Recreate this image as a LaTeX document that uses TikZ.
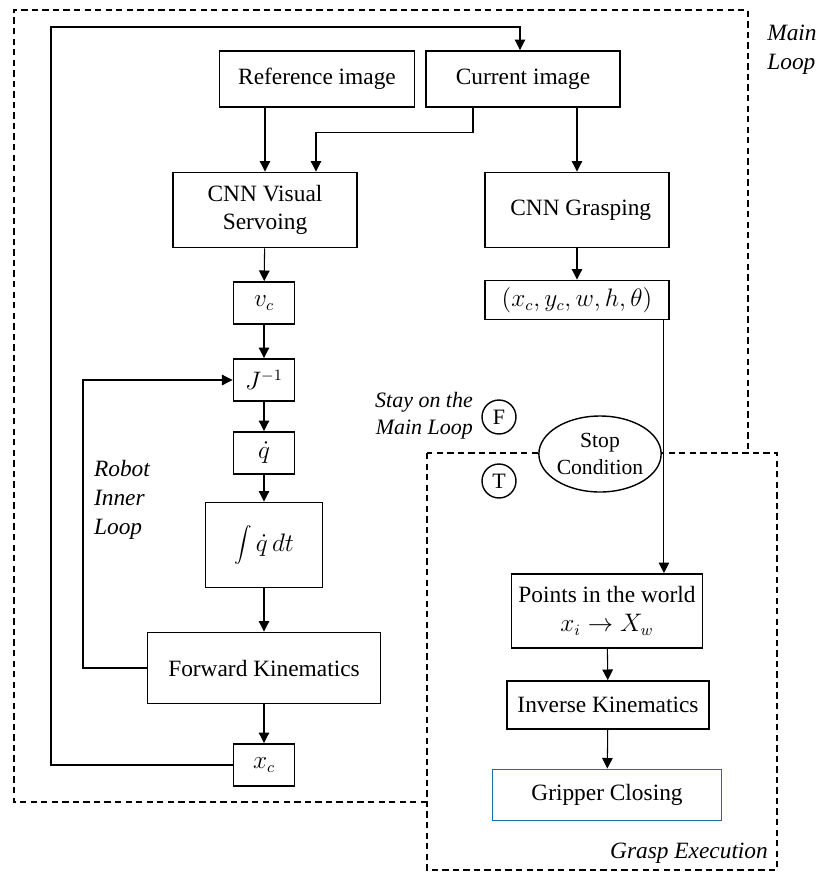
\documentclass[tikz,border=0pt]{standalone}
\usepackage{fontspec}
\setmainfont{Liberation Serif}
\usetikzlibrary{arrows.meta,shapes.geometric}
\definecolor{gripblue}{RGB}{30,108,165}

\begin{document}
\begin{tikzpicture}[x=0.02cm,y=-0.02cm,
	font=\fontsize{13.3}{16.4}\selectfont,
	block/.style={draw,line width=1.1pt,inner sep=0pt,align=center},
	flow/.style={-{Triangle[length=6pt,width=6pt]},line width=0.6pt},
	loopbox/.style={line width=0.9pt,dash pattern=on 3.6pt off 2.4pt},
	tag/.style={font=\fontsize{13.3}{16.4}\selectfont\itshape,align=left},
	branch/.style={circle,draw,line width=0.8pt,minimum size=0.68cm,inner sep=0pt,
		font=\fontsize{12.5}{14}\selectfont}]
	\useasboundingbox (0,0) rectangle (829,883);

	\draw[loopbox] (427,802) -- (14,802) -- (14,10) -- (748,10) -- (748,453);
	\draw[loopbox] (427,453) rectangle (777,870);

	\begin{scope}[every node/.style={block}]
	\node (ref) at (317,79) [minimum width=3.9cm,minimum height=1.12cm] {Reference image};
	\node (cur) at (523,79) [minimum width=3.88cm,minimum height=1.12cm] {Current image};
	\node (vs) at (265,210) [minimum width=3.68cm,minimum height=1.5cm] {CNN Visual\\Servoing};
	\node (grasp) at (577,210) [minimum width=3.68cm,minimum height=1.5cm] {\hspace{0.15cm}CNN Grasping};
	\node (vc) at (264,303) [minimum width=1.22cm,minimum height=0.84cm] {$v_c$};
	\node (tuple) at (577,300) [minimum width=3.68cm,minimum height=0.78cm] {$(x_c,y_c,w,h,\theta)$};
	\node (jinv) at (264,380) [minimum width=1.22cm,minimum height=0.84cm] {$J^{-1}$};
	\node (qd) at (264,453) [minimum width=1.22cm,minimum height=0.84cm] {$\dot{q}$};
	\node (integ) at (264,545) [minimum width=2.34cm,minimum height=1.7cm] {$\displaystyle\int\dot{q}\,dt$};
	\node (fk) at (264,668) [minimum width=4.66cm,minimum height=1.42cm] {Forward Kinematics};
	\node (xc) at (264,765) [minimum width=1.22cm,minimum height=0.84cm] {$x_c$};
	\node (pts) at (607,611) [minimum width=3.82cm,minimum height=1.48cm] {Points in the world\\$x_i\rightarrow X_w$};
	\node (ik) at (608,705) [minimum width=4.04cm,minimum height=0.96cm] {Inverse Kinematics};
	\node (grip) at (607,795) [draw=gripblue,minimum width=4.58cm,minimum height=1.02cm] {Gripper Closing};
	\end{scope}

	\node (stop) at (600,454) [ellipse,draw,fill=white,line width=0.8pt,inner sep=0pt,
		minimum width=2.28cm,minimum height=1.52cm,align=center,
		font=\fontsize{12.3}{15}\selectfont] {Stop\\Condition};
	\node (fal) at (499,417) [branch] {F};
	\node (tru) at (499,481) [branch] {T};

	\node (mainlbl) at (792,50) [tag] {Main\\Loop};
	\node (grasplbl) at (689,853) [tag] {Grasp Execution};
	\node (staylbl) at (424,416) [tag,align=right,font=\fontsize{12.5}{15.5}\selectfont\itshape] {Stay on the\\Main Loop};
	\node (innerlbl) at (122,500) [tag] {Robot\\Inner\\Loop};

	\coordinate (outer) at (51,27);
	\coordinate (inner) at (83,668);

	\draw[flow] (ref.south -| vs.north) -- (vs.north);
	\draw[flow] ([xshift=-1cm]cur.south) -- ++(0,25) -| ([xshift=1.02cm]vs.north);
	\draw[flow] (cur.south -| grasp.north) -- (grasp.north);
	\path[flow] (vs) edge (vc);
	\path[flow] (vc) edge (jinv);
	\path[flow] (jinv) edge (qd);
	\path[flow] (qd) edge (integ);
	\path[flow] (integ) edge (fk);
	\path[flow] (fk) edge (xc);
	\path[flow] (grasp) edge (tuple);
	\draw[flow] ([xshift=-0.12cm]tuple.south east) -- ([xshift=-0.12cm]tuple.south east |- pts.north);
	\path[flow] (pts) edge (ik);
	\path[flow] (ik) edge (grip);
	\draw[flow] (xc.west) -| (outer) -| ([xshift=-0.06cm]cur.north);
	\draw[flow] (fk.west) -- (inner) |- (jinv.west);
\end{tikzpicture}
\end{document}
